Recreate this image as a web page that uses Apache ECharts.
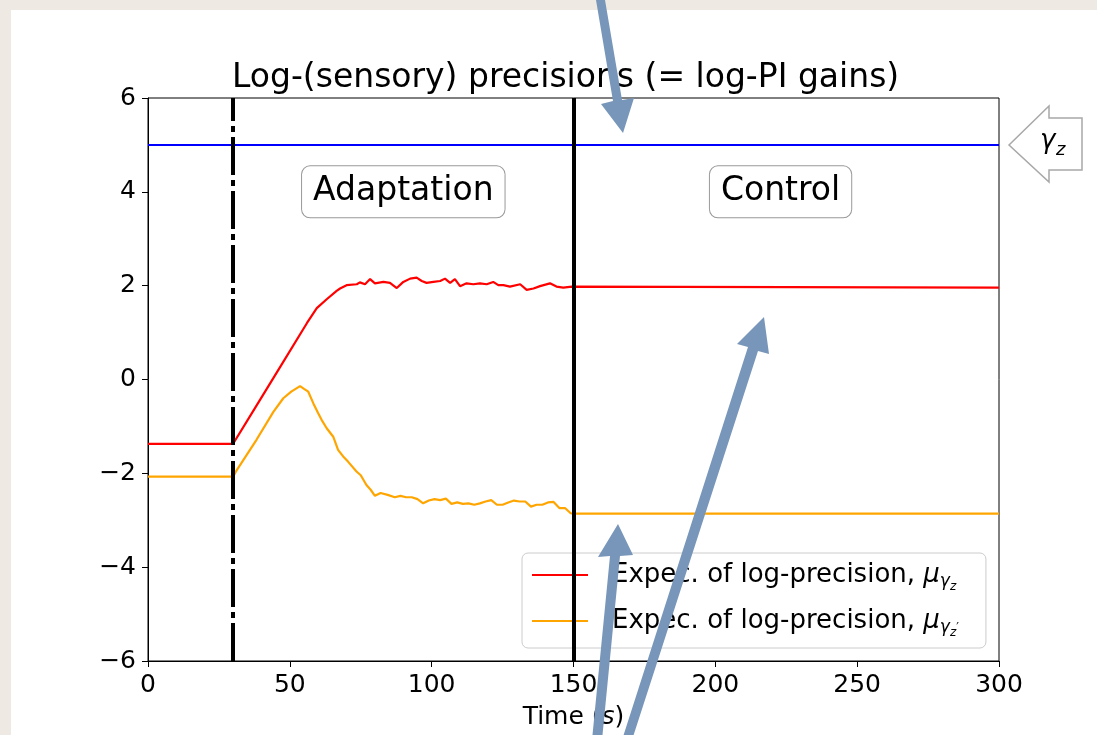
<!DOCTYPE html>
<html>
<head>
<meta charset="utf-8">
<script src="https://cdn.jsdelivr.net/npm/echarts@6/dist/echarts.min.js"></script>
<style>
  html, body { margin: 0; padding: 0; background: #eeeae3; }
  #chart { width: 1097px; height: 735px; }
</style>
</head>
<body>
<div id="chart"></div>
<script>
// time axis (s) and the expected log-precisions
const timeRed = [0, 30, 38.3, 46.5, 56, 59.5, 63, 66.5, 67.7, 70, 73.6, 74.7, 76.5, 78.3, 80, 83, 85.3, 87.7, 90, 92.4, 94.7, 96.5, 98.2, 100.6, 103, 104.7, 106.5, 108.2, 110, 112.3, 114.7, 117, 119.4, 121.7, 123.5, 125.3, 127.6, 131.2, 133.5, 135.9, 138.2, 141.7, 144, 146.4, 149.4, 150, 300];
const muRed = [-1.37, -1.37, -0.55, 0.26, 1.20, 1.52, 1.71, 1.89, 1.94, 2.01, 2.03, 2.07, 2.03, 2.14, 2.05, 2.08, 2.06, 1.95, 2.08, 2.15, 2.17, 2.10, 2.06, 2.08, 2.10, 2.15, 2.06, 2.14, 1.99, 2.05, 2.03, 2.05, 2.03, 2.08, 2.01, 2.01, 1.98, 2.03, 1.91, 1.94, 1.99, 2.05, 1.98, 1.96, 1.98, 1.96, 1.96];

const timeOrange = [0, 30, 31.3, 38.3, 44.2, 47.7, 50.5, 53.6, 55, 56.5, 58.3, 60, 61.2, 63, 65.3, 67, 68.8, 70.5, 73.5, 75, 77, 78.5, 80, 82, 84.5, 87, 89, 91, 93, 95, 97, 99, 101, 103, 105, 107, 109, 111, 113, 115, 117, 119, 121, 123, 125, 127, 129, 131, 133, 135, 137, 139, 141, 143, 145, 147, 149, 150, 300];
const muOrange = [-2.07, -2.07, -1.93, -1.28, -0.69, -0.40, -0.26, -0.14, -0.20, -0.26, -0.51, -0.72, -0.86, -1.04, -1.22, -1.50, -1.64, -1.75, -1.96, -2.04, -2.25, -2.35, -2.48, -2.42, -2.46, -2.51, -2.48, -2.51, -2.51, -2.55, -2.64, -2.58, -2.55, -2.57, -2.54, -2.65, -2.62, -2.65, -2.64, -2.67, -2.64, -2.60, -2.57, -2.67, -2.67, -2.62, -2.58, -2.60, -2.60, -2.71, -2.67, -2.67, -2.62, -2.61, -2.74, -2.74, -2.85, -2.86, -2.86];

const timeTrue = [0, 300];
const gammaTrue = [5, 5];

const phaseLines = [30, 150];
const phaseLabels = [
  { name: 'Adaptation', t: 90, v: 4 },
  { name: 'Control', t: 223, v: 4 }
];

const xTicks = { min: 0, max: 300, interval: 50 };
const yTicks = { min: -6, max: 6, interval: 2 };

const FONT = 'DejaVu Sans';
const ARROW = '#7896b9';

function pairs(ts, vs) { return ts.map((t, i) => [t, vs[i]]); }

const legendNames = {
  muz: '{t|Expec. of log-precision, }{m|μ}{s|γ}{ss|z}',
  muzp: '{t|Expec. of log-precision, }{m|μ}{s|γ}{ss|z}{p|′}'
};

const chart = echarts.init(document.getElementById('chart'));

const option = {
  animation: false,
  backgroundColor: '#eeeae3',
  title: {
    text: 'Log-(sensory) precisions (= log-PI gains)',
    left: 227,
    top: 57,
    textStyle: { fontFamily: FONT, fontSize: 33, fontWeight: 'normal', color: '#000' }
  },
  grid: {
    left: 148, top: 98, width: 851, height: 563,
    show: true, borderColor: '#000', borderWidth: 1, backgroundColor: '#fff'
  },
  legend: {
    data: ['muz', 'muzp'],
    orient: 'vertical',
    left: 522,
    top: 553,
    padding: [9, 27, 9, 10],
    itemGap: 15,
    itemWidth: 56,
    itemHeight: 2,
    icon: 'rect',
    backgroundColor: 'rgba(255,255,255,0.8)',
    borderColor: '#cccccc',
    borderWidth: 1,
    borderRadius: 6,
    formatter: name => legendNames[name],
    textStyle: {
      color: '#000',
      rich: {
        t: { fontFamily: FONT, fontSize: 26, color: '#000', padding: [0, 0, 0, 19] },
        m: { fontFamily: FONT, fontSize: 26, fontStyle: 'italic', color: '#000' },
        s: { fontFamily: FONT, fontSize: 17, fontStyle: 'italic', color: '#000', padding: [14, 0, 0, 0] },
        ss: { fontFamily: FONT, fontSize: 12, fontStyle: 'italic', color: '#000', padding: [24, 0, 0, 0] },
        p: { fontFamily: FONT, fontSize: 12, color: '#000', padding: [14, 0, 0, 0] }
      }
    }
  },
  xAxis: {
    type: 'value',
    min: xTicks.min, max: xTicks.max, interval: xTicks.interval,
    name: '{a|Time (}{i|s}{a|)}',
    nameLocation: 'middle',
    nameGap: 44,
    nameTextStyle: {
      rich: {
        a: { fontFamily: FONT, fontSize: 25, color: '#000' },
        i: { fontFamily: FONT, fontSize: 25, fontStyle: 'italic', color: '#000' }
      }
    },
    axisLine: { onZero: false, lineStyle: { color: '#000', width: 1 } },
    axisTick: { length: 6, lineStyle: { color: '#000' } },
    axisLabel: { fontFamily: FONT, fontSize: 25, color: '#000', margin: 12 },
    splitLine: { show: false }
  },
  yAxis: {
    type: 'value',
    min: yTicks.min, max: yTicks.max, interval: yTicks.interval,
    axisLine: { show: true, onZero: false, lineStyle: { color: '#000', width: 1 } },
    axisTick: { show: true, length: 6, lineStyle: { color: '#000' } },
    axisLabel: {
      fontFamily: FONT, fontSize: 25, color: '#000', margin: 12,
      formatter: v => String(v).replace('-', '\u2212')
    },
    splitLine: { show: false }
  },
  series: [
    {
      name: 'gamma',
      type: 'line',
      data: pairs(timeTrue, gammaTrue),
      showSymbol: false,
      lineStyle: { color: '#0000ff', width: 2 },
      itemStyle: { color: '#0000ff' },
      markLine: {
        silent: true,
        symbol: ['none', 'none'],
        label: { show: false },
        data: [
          { xAxis: phaseLines[0], lineStyle: { color: '#000', width: 4, type: [38, 5, 6, 5] } },
          { xAxis: phaseLines[1], lineStyle: { color: '#000', width: 4, type: 'solid' } }
        ]
      },
      markPoint: {
        silent: true,
        symbol: 'rect',
        symbolSize: 0,
        data: phaseLabels.map(p => ({ name: p.name, coord: [p.t, p.v] })),
        label: {
          show: true,
          position: 'inside',
          formatter: '{b}',
          fontFamily: FONT,
          fontSize: 33,
          color: '#000',
          backgroundColor: '#fff',
          borderColor: '#999',
          borderWidth: 1,
          borderRadius: 8,
          padding: [9, 11, 9, 11]
        }
      }
    },
    {
      name: 'muz',
      type: 'line',
      data: pairs(timeRed, muRed),
      showSymbol: false,
      lineStyle: { color: '#ff0000', width: 2.2 },
      itemStyle: { color: '#ff0000' }
    },
    {
      name: 'muzp',
      type: 'line',
      data: pairs(timeOrange, muOrange),
      showSymbol: false,
      lineStyle: { color: '#ffa500', width: 2.2 },
      itemStyle: { color: '#ffa500' }
    }
  ],
  graphic: [
    // white card behind the figure
    { type: 'rect', z: -10, shape: { x: 11, y: 10, width: 1090, height: 730 }, style: { fill: '#fff' } },
    // gamma_z marker on the right
    {
      type: 'polygon', z: 50,
      shape: { points: [[1009, 145], [1049, 106], [1049, 118], [1082, 118], [1082, 170], [1049, 170], [1049, 182]] },
      style: { fill: '#fff', stroke: '#a8a8a8', lineWidth: 1.5 }
    },
    { type: 'text', z: 51, left: 1040, top: 128, style: { text: 'γ', font: 'italic 26px "DejaVu Sans"', fill: '#000' } },
    { type: 'text', z: 51, left: 1056, top: 141, style: { text: 'z', font: 'italic 18px "DejaVu Sans"', fill: '#000' } },
    // overlay arrows
    {
      type: 'polygon', z: 100,
      shape: { points: [[596, 0], [605, 0], [622, 100], [634, 98], [623, 133], [601, 104], [613, 101]] },
      style: { fill: ARROW }
    },
    {
      type: 'polygon', z: 100,
      shape: { points: [[592, 740], [602, 740], [620, 556], [633, 555], [618, 524], [598, 557], [610, 556]] },
      style: { fill: ARROW }
    },
    {
      type: 'polygon', z: 100,
      shape: { points: [[622, 740], [632, 740], [758, 351], [769, 354], [764, 317], [737, 344], [748, 347]] },
      style: { fill: ARROW }
    }
  ]
};

chart.setOption(option);
window.addEventListener('resize', () => chart.resize());
</script>
</body>
</html>
